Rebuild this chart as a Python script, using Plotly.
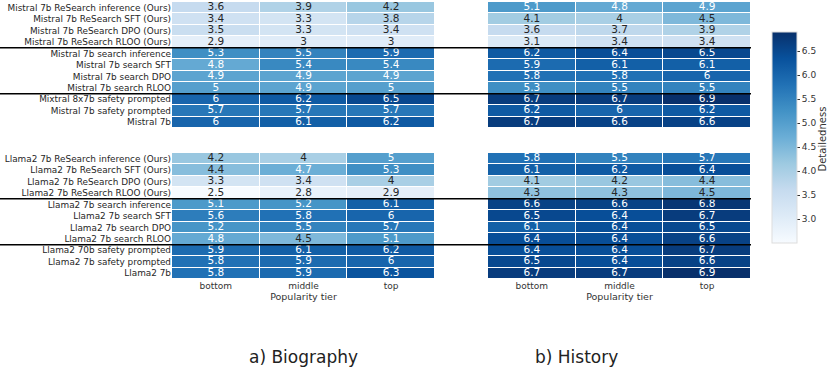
import plotly.graph_objects as go

TIERS = ["bottom", "middle", "top"]

MISTRAL_ROWS = [
    "Mistral 7b ReSearch inference (Ours)",
    "Mistral 7b ReSearch SFT (Ours)",
    "Mistral 7b ReSearch DPO (Ours)",
    "Mistral 7b ReSearch RLOO (Ours)",
    "Mistral 7b search inference",
    "Mistral 7b search SFT",
    "Mistral 7b search DPO",
    "Mistral 7b search RLOO",
    "Mixtral 8x7b safety prompted",
    "Mistral 7b safety prompted",
    "Mistral 7b",
]
LLAMA_ROWS = [
    "Llama2 7b ReSearch inference (Ours)",
    "Llama2 7b ReSearch SFT (Ours)",
    "Llama2 7b ReSearch DPO (Ours)",
    "Llama2 7b ReSearch RLOO (Ours)",
    "Llama2 7b search inference",
    "Llama2 7b search SFT",
    "Llama2 7b search DPO",
    "Llama2 7b search RLOO",
    "Llama2 70b safety prompted",
    "Llama2 7b safety prompted",
    "Llama2 7b",
]

BIO_MISTRAL = [
    [3.6, 3.9, 4.2], [3.4, 3.3, 3.8], [3.5, 3.3, 3.4], [2.9, 3, 3],
    [5.3, 5.5, 5.9], [4.8, 5.4, 5.4], [4.9, 4.9, 4.9], [5, 4.9, 5],
    [6, 6.2, 6.5], [5.7, 5.7, 5.7], [6, 6.1, 6.2],
]
HIST_MISTRAL = [
    [5.1, 4.8, 4.9], [4.1, 4, 4.5], [3.6, 3.7, 3.9], [3.1, 3.4, 3.4],
    [6.2, 6.4, 6.5], [5.9, 6.1, 6.1], [5.8, 5.8, 6], [5.3, 5.5, 5.5],
    [6.7, 6.7, 6.9], [6.2, 6, 6.2], [6.7, 6.6, 6.6],
]
BIO_LLAMA = [
    [4.2, 4, 5], [4.4, 4.7, 5.3], [3.3, 3.4, 4], [2.5, 2.8, 2.9],
    [5.1, 5.2, 6.1], [5.6, 5.8, 6], [5.2, 5.5, 5.7], [4.8, 4.5, 5.1],
    [5.9, 6.1, 6.2], [5.8, 5.9, 6], [5.8, 5.9, 6.3],
]
HIST_LLAMA = [
    [5.8, 5.5, 5.7], [6.1, 6.2, 6.4], [4.1, 4.2, 4.4], [4.3, 4.3, 4.5],
    [6.6, 6.6, 6.8], [6.5, 6.4, 6.7], [6.1, 6.4, 6.5], [6.4, 6.4, 6.6],
    [6.4, 6.4, 6.7], [6.5, 6.4, 6.6], [6.7, 6.7, 6.9],
]

# matplotlib "Blues"
BLUES = ["#f7fbff", "#deebf7", "#c6dbef", "#9ecae1", "#6baed6",
         "#4292c6", "#2171b5", "#08519c", "#08306b"]
CSCALE = [[i / 8, c] for i, c in enumerate(BLUES)]
ZMIN, ZMAX = 2.5, 6.9
FONT = "DejaVu Sans"
W, H = 831, 371

fig = go.Figure()

# (data, xaxis, yaxis, show colorbar)
panels = [
    (BIO_MISTRAL, "x", "y", True),
    (HIST_MISTRAL, "x2", "y2", False),
    (BIO_LLAMA, "x3", "y3", False),
    (HIST_LLAMA, "x4", "y4", False),
]
rows_idx = list(range(11))
for z, xa, ya, cb in panels:
    fig.add_trace(go.Heatmap(
        z=z, x=[0, 1, 2], y=rows_idx, xaxis=xa, yaxis=ya,
        colorscale=CSCALE, zmin=ZMIN, zmax=ZMAX, xgap=1, ygap=1,
        showscale=cb,
        colorbar=dict(
            x=772 / W, xanchor="left", y=1 - 32 / H, yanchor="top",
            len=211 / H, lenmode="fraction", thickness=25, thicknessmode="pixels",
            xpad=0, ypad=0, outlinewidth=1, outlinecolor="#dddddd",
            tickvals=[3.0, 3.5, 4.0, 4.5, 5.0, 5.5, 6.0, 6.5], tickformat=".1f",
            ticks="outside", ticklen=3, tickcolor="#333",
            tickfont=dict(family=FONT, size=9, color="#333"),
        ),
        hovertemplate="%{z}<extra></extra>",
    ))
    xs, ys, ts, cs = [], [], [], []
    for r, row in enumerate(z):
        for c, v in enumerate(row):
            xs.append(c); ys.append(r); ts.append(f"{v:g}")
            cs.append("white" if v > 4.6 else "#262626")
    fig.add_trace(go.Scatter(
        x=xs, y=ys, text=ts, mode="text", xaxis=xa, yaxis=ya,
        textfont=dict(family=FONT, size=10.5, color=cs),
        hoverinfo="skip", showlegend=False,
    ))

xdom_l = [172 / W, 435 / W]
xdom_r = [488 / W, 751 / W]
ydom_t = [1 - 128 / H, 1 - 2 / H]
ydom_b = [1 - 279 / H, 1 - 153 / H]

def xax(dom, anchor, labels):
    return dict(domain=dom, anchor=anchor, range=[-0.5, 2.5], showgrid=False,
                zeroline=False, tickvals=[0, 1, 2], ticktext=TIERS,
                showticklabels=labels, ticks="", automargin=False,
                tickfont=dict(family=FONT, size=9, color="#333"),
                title=dict(text="Popularity tier" if labels else "", standoff=0,
                           font=dict(family=FONT, size=9.5, color="#333")))

def yax(dom, anchor, names):
    return dict(domain=dom, anchor=anchor, range=[10.5, -0.5], showgrid=False,
                zeroline=False, tickvals=rows_idx, ticktext=names or [],
                showticklabels=bool(names), ticks="", automargin=False,
                tickfont=dict(family=FONT, size=8.9, color="#262626"))

fig.update_layout(
    width=W, height=H, margin=dict(l=0, r=0, t=0, b=0),
    paper_bgcolor="white", plot_bgcolor="white", showlegend=False,
    xaxis=xax(xdom_l, "y", False), yaxis=yax(ydom_t, "x", MISTRAL_ROWS),
    xaxis2=xax(xdom_r, "y2", False), yaxis2=yax(ydom_t, "x2", None),
    xaxis3=xax(xdom_l, "y3", True), yaxis3=yax(ydom_b, "x3", LLAMA_ROWS),
    xaxis4=xax(xdom_r, "y4", True), yaxis4=yax(ydom_b, "x4", None),
)

# black separators between model groups
for yref in ["y", "y3"]:
    for yy in [3.5, 7.5]:
        fig.add_shape(type="line", xref="paper", yref=yref, x0=0, x1=751 / W,
                      y0=yy, y1=yy, line=dict(color="black", width=1.5))

fig.add_annotation(text="Detailedness", x=829 / W, y=1 - 139 / H, xref="paper",
                   yref="paper", showarrow=False, textangle=-90,
                   font=dict(family=FONT, size=10, color="#333"))

for txt, cx in [("a) Biography", 303), ("b) History", 620)]:
    fig.add_annotation(text=txt, x=cx / W, y=2 / H, xref="paper", yref="paper",
                       yanchor="bottom", showarrow=False,
                       font=dict(family=FONT, size=17, color="#222"))

# drop the browser's default body margin so the figure sits at (0, 0)
fig.write_html("out.html", config={"displayModeBar": False},
               post_script="document.body.style.margin='0';")
